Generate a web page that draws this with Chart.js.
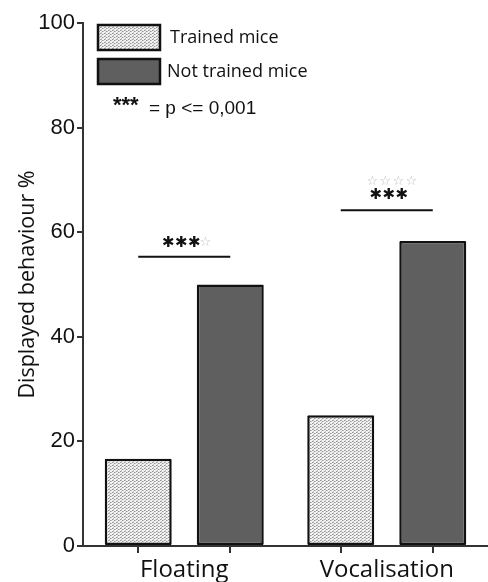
<!DOCTYPE html>
<html>
<head>
<meta charset="utf-8">
<script src="https://cdn.jsdelivr.net/npm/chart.js@4.4.1/dist/chart.umd.min.js"></script>
<style>
  html, body { margin: 0; padding: 0; background: #fff; }
  #wrap { width: 488px; height: 582px; position: relative; }
</style>
</head>
<body>
<div id="wrap"><canvas id="chart"></canvas></div>
<script>
// values
var groups = ['Floating', 'Vocalisation'];
var seriesNames = ['Trained mice', 'Not trained mice'];
var trained = [16.7, 25];
var notTrained = [50, 58.3];
var yTicks = [0, 20, 40, 60, 80, 100];
// significance bars (height in % units) and their marks
var sigLevels = [55.3, 64.2];
var sigStars = [3, 3];
var sigFaint = [1, 4];

window.addEventListener("load", function() {
    init();
});

function makeStipple(ctx) {
    var c = document.createElement('canvas');
    c.width = 4; c.height = 3;
    var g = c.getContext('2d');
    g.fillStyle = '#f2f2f2';
    g.fillRect(0, 0, 4, 3);
    g.fillStyle = '#959595';
    g.fillRect(0, 0, 1, 1);
    g.fillRect(2, 1, 1, 1);
    g.fillStyle = '#c0c0c0';
    g.fillRect(1, 0, 1, 1);
    g.fillRect(3, 1, 1, 1);
    g.fillRect(1, 2, 1, 1);
    return ctx.createPattern(c, 'repeat');
}

function drawRow(ctx, ch, n, cx, cy, step) {
    var start = cx - (n - 1) * step / 2;
    for (var k = 0; k < n; k++) {
        ctx.fillText(ch, start + k * step, cy);
    }
}

var extras = {
    id: 'extras',
    afterDatasetsDraw: function(chart) {
        var ctx = chart.ctx;
        var y = chart.scales.y;
        var m0 = chart.getDatasetMeta(0), m1 = chart.getDatasetMeta(1);
        ctx.save();

        // tick marks under each bar
        ctx.strokeStyle = '#333';
        ctx.lineWidth = 2;
        [m0, m1].forEach(function(m) {
            m.data.forEach(function(b) {
                ctx.beginPath();
                ctx.moveTo(Math.round(b.x), y.bottom);
                ctx.lineTo(Math.round(b.x), y.bottom + 7);
                ctx.stroke();
            });
        });

        // significance lines + stars
        ctx.textAlign = 'center';
        ctx.textBaseline = 'middle';
        groups.forEach(function(g, i) {
            var x1 = m0.data[i].x, x2 = m1.data[i].x;
            var py = y.getPixelForValue(sigLevels[i]);
            ctx.strokeStyle = '#111';
            ctx.lineWidth = 2;
            ctx.beginPath();
            ctx.moveTo(x1, py);
            ctx.lineTo(x2, py);
            ctx.stroke();
            var cx = (x1 + x2) / 2;
            ctx.fillStyle = '#111';
            ctx.font = 'bold 15px "DejaVu Sans"';
            if (i === 0) {
                drawRow(ctx, '✱', sigStars[i], cx - 3, py - 14, 13);
                ctx.fillStyle = '#bdbdbd';
                ctx.font = '13px "DejaVu Sans"';
                drawRow(ctx, '☆', sigFaint[i], cx + 21, py - 14, 13);
            } else {
                drawRow(ctx, '✱', sigStars[i], cx + 2, py - 15, 13);
                ctx.fillStyle = '#bdbdbd';
                ctx.font = '13px "DejaVu Sans"';
                drawRow(ctx, '☆', sigFaint[i], cx + 5, py - 29, 13);
            }
        });

        // legend
        var fills = [chart.data.datasets[0].backgroundColor, chart.data.datasets[1].backgroundColor];
        var boxTops = [25, 59];
        ctx.textAlign = 'left';
        seriesNames.forEach(function(name, i) {
            ctx.fillStyle = fills[i];
            ctx.fillRect(98, boxTops[i], 62, 25);
            ctx.strokeStyle = '#111';
            ctx.lineWidth = 2.5;
            ctx.strokeRect(98, boxTops[i], 62, 25);
            ctx.fillStyle = '#111';
            ctx.font = '18px "Open Sans"';
            ctx.textBaseline = 'middle';
            ctx.fillText(name, i === 0 ? 170 : 167, boxTops[i] + 13);
        });
        ctx.font = 'bold 22px "Liberation Sans"';
        ctx.fillText('***', 113, 106);
        ctx.font = '19px "Liberation Sans"';
        ctx.fillText('= p <= 0,001', 149, 109);
        ctx.restore();
    }
};

function init() {
    var ctx = document.getElementById('chart').getContext('2d');
    var stipple = makeStipple(ctx);
    var chart = new Chart(ctx, {
        type: 'bar',
        data: {
            labels: groups,
            datasets: [{
                label: seriesNames[0],
                data: trained,
                backgroundColor: stipple,
                borderColor: '#111',
                borderWidth: 2.5,
                borderSkipped: false,
                borderRadius: 1
            }, {
                label: seriesNames[1],
                data: notTrained,
                backgroundColor: '#5f5f5f',
                borderColor: '#111',
                borderWidth: 2.5,
                borderSkipped: false,
                borderRadius: 1
            }]
        },
        options: {
            responsive: true,
            maintainAspectRatio: false,
            animation: false,
            categoryPercentage: 0.909,
            barPercentage: 0.728,
            layout: { padding: { top: 23, right: 0, left: 0, bottom: 0 } },
            plugins: {
                legend: { display: false },
                tooltip: { enabled: false }
            },
            scales: {
                x: {
                    afterFit: function(s) { s.height = 36; },
                    grid: { display: false, drawTicks: false },
                    border: { display: true, color: '#333', width: 2 },
                    ticks: {
                        color: '#111',
                        padding: 10,
                        font: { family: 'Open Sans', size: 24 }
                    }
                },
                y: {
                    min: 0,
                    max: 100,
                    afterFit: function(s) { s.width = 83; },
                    afterBuildTicks: function(s) {
                        s.ticks = yTicks.map(function(v) { return { value: v }; });
                    },
                    grid: { drawOnChartArea: false, drawTicks: true, tickLength: 6, color: '#333', lineWidth: 2 },
                    border: { display: true, color: '#333', width: 2 },
                    ticks: {
                        color: '#111',
                        padding: 2,
                        font: { family: 'Liberation Sans', size: 22 }
                    },
                    title: {
                        display: true,
                        text: 'Displayed behaviour %',
                        color: '#111',
                        padding: { top: 15, bottom: 0 },
                        font: { family: 'Open Sans', size: 21.5 }
                    }
                }
            }
        },
        plugins: [extras]
    });
}
</script>
</body>
</html>
